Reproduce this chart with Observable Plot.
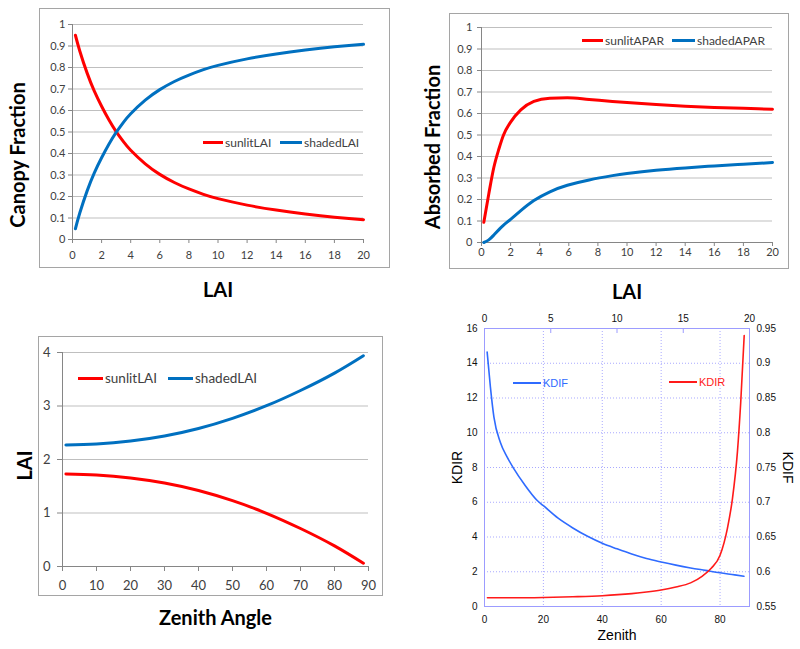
<!DOCTYPE html>
<html><head><meta charset="utf-8">
<script src="https://cdn.jsdelivr.net/npm/d3@7"></script>
<script src="https://cdn.jsdelivr.net/npm/@observablehq/plot@0.6"></script>
<style>
body{margin:0;background:#fff;}
#root{position:relative;width:800px;height:649px;overflow:hidden;background:#fff;}
#root svg{position:absolute;overflow:visible;}
.frame{position:absolute;border:1px solid #a5a5a5;box-sizing:border-box;}
.lg{position:absolute;display:flex;align-items:center;height:16px;white-space:nowrap;}
.sw{display:inline-block;margin-right:2px;}
</style></head>
<body><div id="root"></div>
<script>
// ---- Panel 1: canopy fraction vs LAI
const laiA = [0.2,0.5,1,1.5,2,2.5,3,3.5,4,5,6,7,8,9,10,12,14,16,18,20];
const sunlitFraction = [0.95,0.877,0.775,0.69,0.62,0.557,0.502,0.455,0.415,0.352,0.303,0.265,0.235,0.21,0.19,0.16,0.137,0.119,0.104,0.092];
const shadedFraction = [0.05,0.123,0.225,0.31,0.38,0.443,0.498,0.545,0.585,0.648,0.697,0.735,0.765,0.79,0.81,0.84,0.863,0.881,0.896,0.908];
const fractionTicks = [0,0.1,0.2,0.3,0.4,0.5,0.6,0.7,0.8,0.9,1];
const laiTicks = [0,2,4,6,8,10,12,14,16,18,20];
const seriesLAI = ["sunlitLAI","shadedLAI"];

// ---- Panel 2: absorbed fraction vs LAI
const laiB = [0.16,0.5,0.85,1.2,1.5,2,2.7,3.6,4.7,5.9,7.4,9,10,12,14,16,18,20];
const sunlitAPAR = [0.094,0.226,0.35,0.436,0.498,0.56,0.617,0.656,0.671,0.673,0.665,0.656,0.651,0.642,0.634,0.628,0.624,0.62];
const shadedAPAR = [0.0,0.012,0.035,0.06,0.08,0.108,0.148,0.195,0.236,0.266,0.291,0.311,0.321,0.336,0.347,0.356,0.364,0.372];
const seriesAPAR = ["sunlitAPAR","shadedAPAR"];

// ---- Panel 3: LAI vs zenith angle
const zenithC = [1,10,20,30,40,50,60,70,80,88.5];
const sunlitLAIz = [1.73,1.71,1.655,1.56,1.42,1.23,0.995,0.71,0.385,0.06];
const shadedLAIz = [2.27,2.29,2.345,2.44,2.58,2.77,3.005,3.29,3.615,3.94];
const laiTicksC = [0,1,2,3,4];
const zenithTicksC = [0,10,20,30,40,50,60,70,80,90];

// ---- Panel 4: KDIR / KDIF vs zenith
const zenithDif = [0.9,2,3.2,5.4,7.7,10,13.4,17.9,20,25,30,35,40,45,50,55,60,65,70,75,80,85,88.1];
const kdif = [0.916,0.866,0.8225,0.786,0.765,0.748,0.7265,0.7025,0.695,0.677,0.663,0.651,0.641,0.633,0.6255,0.619,0.614,0.6095,0.6055,0.602,0.5985,0.5955,0.5935];
const zenithDir = [1,10,20,30,40,50,55,60,65,70,74,77,80,82.5,84.2,85.9,87,88.2];
const kdir = [0.5,0.5,0.52,0.56,0.62,0.74,0.83,0.95,1.12,1.36,1.75,2.2,2.95,4.5,6.2,8.9,11.7,15.6];
const kdirTicks = [0,2,4,6,8,10,12,14,16];
const kdifTicks = [0.55,0.6,0.65,0.7,0.75,0.8,0.85,0.9,0.95];
const zenithTicksD = [0,20,40,60,80];
const topTicks = [0,5,10,15,20];
const seriesK = ["KDIF","KDIR"];

const RED = "#ff0000", BLUE = "#0070c0";
const K_RED = "#ff1a1a", K_BLUE = "#2f6bff";
const root = document.getElementById("root");
const fmt = d => String(d);

function place(svg, left, top) {
  svg.style.left = left + "px"; svg.style.top = top + "px";
  root.appendChild(svg);
}
function frame(l, t, w, h) {
  const d = document.createElement("div");
  d.className = "frame";
  Object.assign(d.style, {left: l + "px", top: t + "px", width: w + "px", height: h + "px"});
  root.appendChild(d);
}
function legendItem(label, color, left, cy, sw, font, size, textColor, thick) {
  const d = document.createElement("div");
  d.className = "lg";
  Object.assign(d.style, {left: left + "px", top: (cy - 8) + "px", fontFamily: font, fontSize: size + "px", color: textColor});
  const s = document.createElement("span");
  s.className = "sw";
  Object.assign(s.style, {width: sw + "px", height: thick + "px", background: color});
  d.appendChild(s);
  d.appendChild(document.createTextNode(label));
  root.appendChild(d);
}
const pts = (xs, ys) => xs.map((x, i) => ({x, y: ys[i]}));

const titleStyle = {fontSize: 20, fontWeight: "bold", fill: "#000", fontFamily: "Lato", textAnchor: "middle", lineAnchor: "middle"};

// Panel 1
frame(39, 8, 351, 260);
place(Plot.plot({
  width: 400, height: 310, marginLeft: 72, marginRight: 37, marginTop: 24, marginBottom: 71,
  style: {fontFamily: "Lato", fontSize: "11px", background: "transparent"},
  x: {domain: [0, 20]}, y: {domain: [0, 1]},
  marks: [
    Plot.gridY(fractionTicks.slice(1), {stroke: "#bfbfbf", strokeOpacity: 1}),
    Plot.ruleX([0], {stroke: "#868686"}),
    Plot.ruleY([0], {stroke: "#868686"}),
    Plot.axisY(fractionTicks, {tickSize: 4, tickPadding: 3, stroke: "#868686", fill: "#404040", tickFormat: fmt, label: null}),
    Plot.axisX(laiTicks, {tickSize: 4, tickPadding: 8, stroke: "#868686", fill: "#404040", tickFormat: fmt, label: null}),
    Plot.line(pts(laiA, sunlitFraction), {x: "x", y: "y", stroke: RED, strokeWidth: 3, curve: "natural"}),
    Plot.line(pts(laiA, shadedFraction), {x: "x", y: "y", stroke: BLUE, strokeWidth: 3, curve: "natural"}),
    Plot.text(["Canopy Fraction"], {frameAnchor: "left", rotate: -90, dx: -54, dy: 23, ...titleStyle}),
    Plot.text(["LAI"], {frameAnchor: "bottom", dy: 51, ...titleStyle})
  ]
}), 0, 0);
legendItem(seriesLAI[0], RED, 203, 142, 20, "Lato", 12, "#404040", 3);
legendItem(seriesLAI[1], BLUE, 280, 142, 22, "Lato", 12, "#404040", 3);

// Panel 2
frame(449, 13, 340, 256);
place(Plot.plot({
  width: 400, height: 310, marginLeft: 81, marginRight: 28, marginTop: 27, marginBottom: 68,
  style: {fontFamily: "Lato", fontSize: "11px", background: "transparent"},
  x: {domain: [0, 20]}, y: {domain: [0, 1]},
  marks: [
    Plot.gridY(fractionTicks.slice(1), {stroke: "#bfbfbf", strokeOpacity: 1}),
    Plot.ruleX([0], {stroke: "#868686"}),
    Plot.ruleY([0], {stroke: "#868686"}),
    Plot.axisY(fractionTicks, {tickSize: 4, tickPadding: 5, stroke: "#868686", fill: "#404040", tickFormat: fmt, label: null}),
    Plot.axisX(laiTicks, {tickSize: 4, tickPadding: 2, stroke: "#868686", fill: "#404040", tickFormat: fmt, label: null}),
    Plot.line(pts(laiB, sunlitAPAR), {x: "x", y: "y", stroke: RED, strokeWidth: 3, curve: "monotone-x"}),
    Plot.line(pts(laiB, shadedAPAR), {x: "x", y: "y", stroke: BLUE, strokeWidth: 3, curve: "natural"}),
    Plot.text(["Absorbed Fraction"], {frameAnchor: "left", rotate: -90, dx: -48, dy: 12, ...titleStyle}),
    Plot.text(["LAI"], {frameAnchor: "bottom", dy: 50, ...titleStyle})
  ]
}), 400, 0);
legendItem(seriesAPAR[0], RED, 582, 40, 21, "Lato", 12, "#404040", 3);
legendItem(seriesAPAR[1], BLUE, 672, 40, 23, "Lato", 12, "#404040", 3);

// Panel 3
frame(38, 336, 345, 260);
place(Plot.plot({
  width: 400, height: 339, marginLeft: 62, marginRight: 32, marginTop: 42, marginBottom: 83,
  style: {fontFamily: "Lato", fontSize: "13px", background: "transparent"},
  x: {domain: [0, 90]}, y: {domain: [0, 4]},
  marks: [
    Plot.gridY(laiTicksC.slice(1), {stroke: "#bfbfbf", strokeOpacity: 1}),
    Plot.ruleX([0], {stroke: "#868686"}),
    Plot.ruleY([0], {stroke: "#868686"}),
    Plot.axisY(laiTicksC, {tickSize: 5, tickPadding: 7, stroke: "#868686", fill: "#404040", tickFormat: fmt, label: null}),
    Plot.axisX(zenithTicksC, {tickSize: 5, tickPadding: 9, stroke: "#868686", fill: "#404040", tickFormat: fmt, label: null}),
    Plot.line(pts(zenithC, sunlitLAIz), {x: "x", y: "y", stroke: RED, strokeWidth: 3, curve: "natural"}),
    Plot.line(pts(zenithC, shadedLAIz), {x: "x", y: "y", stroke: BLUE, strokeWidth: 3, curve: "natural"}),
    Plot.text(["LAI"], {frameAnchor: "left", rotate: -90, dx: -37, dy: 6, ...titleStyle}),
    Plot.text(["Zenith Angle"], {frameAnchor: "bottom", dy: 52, ...titleStyle})
  ]
}), 0, 310);
legendItem(seriesLAI[0], RED, 78, 378, 25, "Lato", 13.5, "#404040", 3);
legendItem(seriesLAI[1], BLUE, 168, 378, 25, "Lato", 13.5, "#404040", 3);

// Panel 4 (dual axes)
const kdirDomain = [kdirTicks[0], kdirTicks[kdirTicks.length - 1]];
const kdifDomain = [kdifTicks[0], kdifTicks[kdifTicks.length - 1]];
const zenDomain = [0, 90];
const difToDir = d3.scaleLinear(kdifDomain, kdirDomain);
const topToZen = d3.scaleLinear([topTicks[0], topTicks[topTicks.length - 1]], zenDomain);
const axisFont = {fill: "#111", fontFamily: "Liberation Sans"};
const kTitle = {fontSize: 14, fill: "#000", textAnchor: "middle", lineAnchor: "middle"};
place(Plot.plot({
  width: 400, height: 344, marginLeft: 84, marginRight: 51, marginTop: 23, marginBottom: 43,
  style: {fontFamily: "Liberation Sans", fontSize: "10px", background: "transparent"},
  x: {domain: zenDomain}, y: {domain: kdirDomain},
  marks: [
    Plot.gridY(kdirTicks.slice(1, -1), {stroke: "#a9a9ff", strokeOpacity: 1, strokeDasharray: "1,2"}),
    Plot.gridX(zenithTicksD.slice(1), {stroke: "#a9a9ff", strokeOpacity: 1, strokeDasharray: "1,2"}),
    Plot.frame({stroke: "#9c9cff"}),
    Plot.axisY(kdirTicks, {tickSize: 0, tickPadding: 7, tickFormat: fmt, label: null, ...axisFont}),
    Plot.axisY(kdifTicks.map(difToDir), {anchor: "right", tickSize: 0, tickPadding: 7, tickFormat: d => d3.format(".2~f")(difToDir.invert(d)), label: null, ...axisFont}),
    Plot.axisX(zenithTicksD, {tickSize: 0, tickPadding: 9, tickFormat: fmt, label: null, ...axisFont}),
    Plot.axisX(topTicks.map(topToZen), {anchor: "top", tickSize: 0, tickPadding: 7, tickFormat: d => String(Math.round(topToZen.invert(d))), label: null, ...axisFont}),
    Plot.ruleX(topTicks.slice(1, -1).map(topToZen), {stroke: "#9c9cff", insetBottom: 273}),
    Plot.line(pts(zenithDif, kdif.map(difToDir)), {x: "x", y: "y", stroke: K_BLUE, strokeWidth: 1.6, curve: "monotone-x"}),
    Plot.line(pts(zenithDir, kdir), {x: "x", y: "y", stroke: K_RED, strokeWidth: 1.6, curve: "monotone-x"}),
    Plot.text(["KDIR"], {frameAnchor: "left", rotate: -90, dx: -27, ...kTitle}),
    Plot.text(["KDIF"], {frameAnchor: "right", rotate: 90, dx: 38, ...kTitle}),
    Plot.text(["Zenith"], {frameAnchor: "bottom", dy: 29, ...kTitle})
  ]
}), 400, 305);
legendItem(seriesK[0], K_BLUE, 513, 383, 28, "Liberation Sans", 11, K_BLUE, 2);
legendItem(seriesK[1], K_RED, 669, 382, 28, "Liberation Sans", 11, K_RED, 2);
</script>
</body></html>
